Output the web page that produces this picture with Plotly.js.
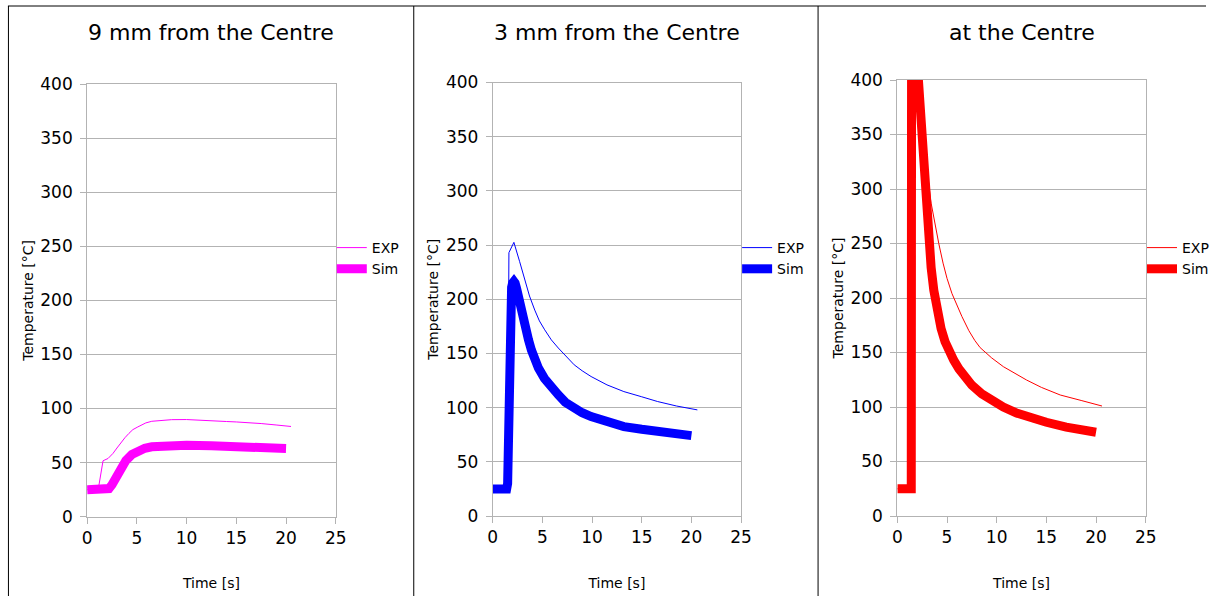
<!DOCTYPE html>
<html>
<head>
<meta charset="utf-8">
<script src="https://cdn.plot.ly/plotly-3.0.1.min.js"></script>
<style>html,body{margin:0;padding:0;background:#fff;overflow:hidden;width:1214px;height:596px;}#chart{width:1214px;height:596px;overflow:hidden;}</style>
</head>
<body>
<div id="chart"></div>
<script>
// ---- data ----
var panelTitles = ["9 mm from the Centre", "3 mm from the Centre", "at the Centre"];
var seriesNames = ["EXP", "Sim"];
var xTitle = "Time [s]";
var yTitle = "Temperature [°C]";

// 9 mm from the Centre
var exp9_t = [0, 0.5, 1.0, 1.15, 1.6, 2.1, 2.6, 3.0, 3.4, 3.8, 4.2, 4.6, 5.1, 5.5, 5.9, 6.5, 7.5, 8.5, 10, 11, 12.5, 14, 15, 16, 17.5, 19, 20.5];
var exp9_v = [25, 25, 25, 27, 51.7, 53.8, 58.5, 63.5, 68.6, 73, 77, 80.5, 83, 85.2, 86.7, 88.2, 89.2, 89.7, 89.8, 89.5, 88.6, 88, 87.6, 87.1, 86.1, 84.8, 83.4];
var sim9_t = [0, 0.5, 1, 1.5, 2.0, 2.2, 2.5, 2.9, 3.4, 3.9, 4.5, 5.1, 5.8, 6.5, 7.5, 8.5, 10, 12.5, 15, 17.5, 20];
var sim9_v = [25, 25, 25, 25, 25, 26, 29.5, 37, 45, 52, 57.5, 61, 63.3, 64.6, 65.4, 65.8, 66, 65.6, 65, 64, 63];

// 3 mm from the Centre
var exp3_t = [0, 1.0, 1.5, 1.63, 2.13, 2.7, 3.23, 3.7, 4.23, 4.7, 5.23, 5.9, 6.6, 7.4, 8.2, 9.0, 9.9, 11.5, 13.2, 15, 16.6, 18.5, 20.6];
var exp3_v = [25, 25, 25, 243, 252.5, 235, 218, 203, 190, 180, 171.8, 162.5, 155, 147, 139.5, 134, 128.7, 121, 114.8, 110, 105.6, 101.5, 97.9];
var sim3_t = [0, 0.5, 1.0, 1.4, 1.5, 1.57, 1.63, 1.7, 1.8, 1.9, 2.0, 2.13, 2.25, 2.4, 2.6, 2.9, 3.25, 3.6, 3.9, 4.23, 4.6, 5.2, 5.9, 6.6, 7.3, 8.2, 9.0, 9.9, 11.5, 13.2, 15, 16.6, 18.3, 20];
var sim3_v = [25, 25, 25, 25, 30, 79, 172, 192, 204, 211, 215, 216.5, 215, 210, 201, 187, 174, 162.6, 153, 144, 136.5, 127, 118.5, 111.8, 105, 99.5, 95.3, 91.7, 87, 82.5, 80, 77.9, 76, 74.2];

// at the Centre
var exp0_t = [0, 0.5, 1.0, 1.3, 1.8, 2.3, 2.67, 3.0, 3.4, 3.8, 4.17, 4.6, 5.0, 5.5, 6.0, 6.5, 7.2, 7.8, 8.33, 9.5, 10.67, 12, 13, 14.5, 16.4, 18.5, 20.6];
var exp0_v = [25, 25, 25, 25, 500, 420, 348, 317, 287, 266, 250, 232, 218, 204, 193, 183, 170, 161, 154.5, 145, 137, 130, 124.8, 118, 111, 106, 100.9];
var sim0_t = [0, 0.5, 1.0, 1.4, 1.45, 1.6, 2.12, 2.3, 2.44, 2.6, 2.74, 2.95, 3.14, 3.4, 3.67, 4.0, 4.4, 4.8, 5.2, 5.67, 6.2, 7.0, 7.5, 8.5, 9.5, 10.67, 12, 13.5, 15, 17, 18.5, 20];
var sim0_v = [25, 25, 25, 25, 650, 680, 400, 372, 350, 325, 302, 275, 252, 228, 207, 188, 172, 160, 151, 143, 135, 125, 120, 112, 105.5, 100, 94.5, 89.5, 86, 81.5, 79, 76.8];

var colors = ["#ff00ff", "#0000ff", "#ff0000"];

// ---- layout helpers ----
var W = 1214, H = 596;
function px(x) { return x / W; }
function py(y) { return 1 - y / H; }

var FONT = "DejaVu Sans, Verdana, sans-serif";
// plot areas in pixels: [left, right, top, bottom]
var areas = [[87.7, 338, 84, 516.7], [496, 746, 82.5, 516], [903.3, 1153.3, 80, 516]];
var legendLeft = [334, 742, 1150];

var data = [];
var sets = [[exp9_t, exp9_v, sim9_t, sim9_v], [exp3_t, exp3_v, sim3_t, sim3_v], [exp0_t, exp0_v, sim0_t, sim0_v]];
sets.forEach(function (s, i) {
  var ax = i === 0 ? "" : String(i + 1);
  var lg = i === 0 ? "legend" : "legend" + (i + 1);
  data.push({x: s[0], y: s[1], type: "scatter", mode: "lines", name: seriesNames[0],
    xaxis: "x" + ax, yaxis: "y" + ax, legend: lg, line: {color: colors[i], width: 1}, hoverinfo: "skip"});
  data.push({x: s[2], y: s[3], type: "scatter", mode: "lines", name: seriesNames[1],
    xaxis: "x" + ax, yaxis: "y" + ax, legend: lg, line: {color: colors[i], width: 9}, hoverinfo: "skip"});
});

var layout = {
  width: W, height: H, autosize: false,
  margin: {l: 0, r: 0, t: 0, b: 0, pad: 0},
  paper_bgcolor: "#ffffff", plot_bgcolor: "#ffffff",
  font: {family: FONT, color: "#000000", size: 14},
  showlegend: true,
  annotations: [], shapes: []
};

areas.forEach(function (a, i) {
  var ax = i === 0 ? "" : String(i + 1);
  layout["xaxis" + ax] = {
    domain: [px(a[0]), px(a[1])], anchor: "y" + ax, range: [0, 25], dtick: 5, tick0: 0,
    showgrid: false, zeroline: false, showline: true, mirror: true, linecolor: "#b3b3b3", linewidth: 1,
    ticks: "outside", ticklen: 6, tickcolor: "#b3b3b3", tickfont: {family: FONT, size: 17, color: "#000"},
    title: {text: xTitle, font: {family: FONT, size: 14, color: "#000"}, standoff: 31},
    fixedrange: true
  };
  layout["yaxis" + ax] = {
    domain: [py(a[3]), py(a[2])], anchor: "x" + ax, range: [0, 400], dtick: 50, tick0: 0,
    showgrid: true, gridcolor: "#b3b3b3", gridwidth: 1, zeroline: false, showline: true, mirror: true,
    linecolor: "#b3b3b3", linewidth: 1,
    ticks: "outside", ticklen: 6, tickcolor: "#b3b3b3", tickfont: {family: FONT, size: 17, color: "#000"},
    ticklabelstandoff: 4,
    title: {text: yTitle, font: {family: FONT, size: 14, color: "#000"}, standoff: 3},
    fixedrange: true
  };
  layout.annotations.push({
    text: panelTitles[i], xref: "paper", yref: "paper", x: px((a[0] + a[1]) / 2), y: py(33),
    xanchor: "center", yanchor: "middle", showarrow: false, font: {family: FONT, size: 22, color: "#000"}
  });
  var lg = i === 0 ? "legend" : "legend" + (i + 1);
  layout[lg] = {
    x: px(legendLeft[i]), y: py(232), xanchor: "left", yanchor: "top",
    bgcolor: "rgba(0,0,0,0)", borderwidth: 0, font: {family: FONT, size: 14, color: "#000"},
    tracegroupgap: 0, itemclick: false, itemdoubleclick: false
  };
});

// panel frames
var frameX = [8.5, 416.5, 823.5];
layout.shapes.push({type: "line", xref: "paper", yref: "paper", x0: px(8), x1: 1, y0: py(6), y1: py(6), line: {color: "#000", width: 1}});
frameX.forEach(function (fx) {
  layout.shapes.push({type: "line", xref: "paper", yref: "paper", x0: px(fx), x1: px(fx), y0: py(6), y1: 0, line: {color: "#000", width: 1}});
});

Plotly.newPlot("chart", data, layout, {staticPlot: true, displayModeBar: false});
</script>
</body>
</html>
